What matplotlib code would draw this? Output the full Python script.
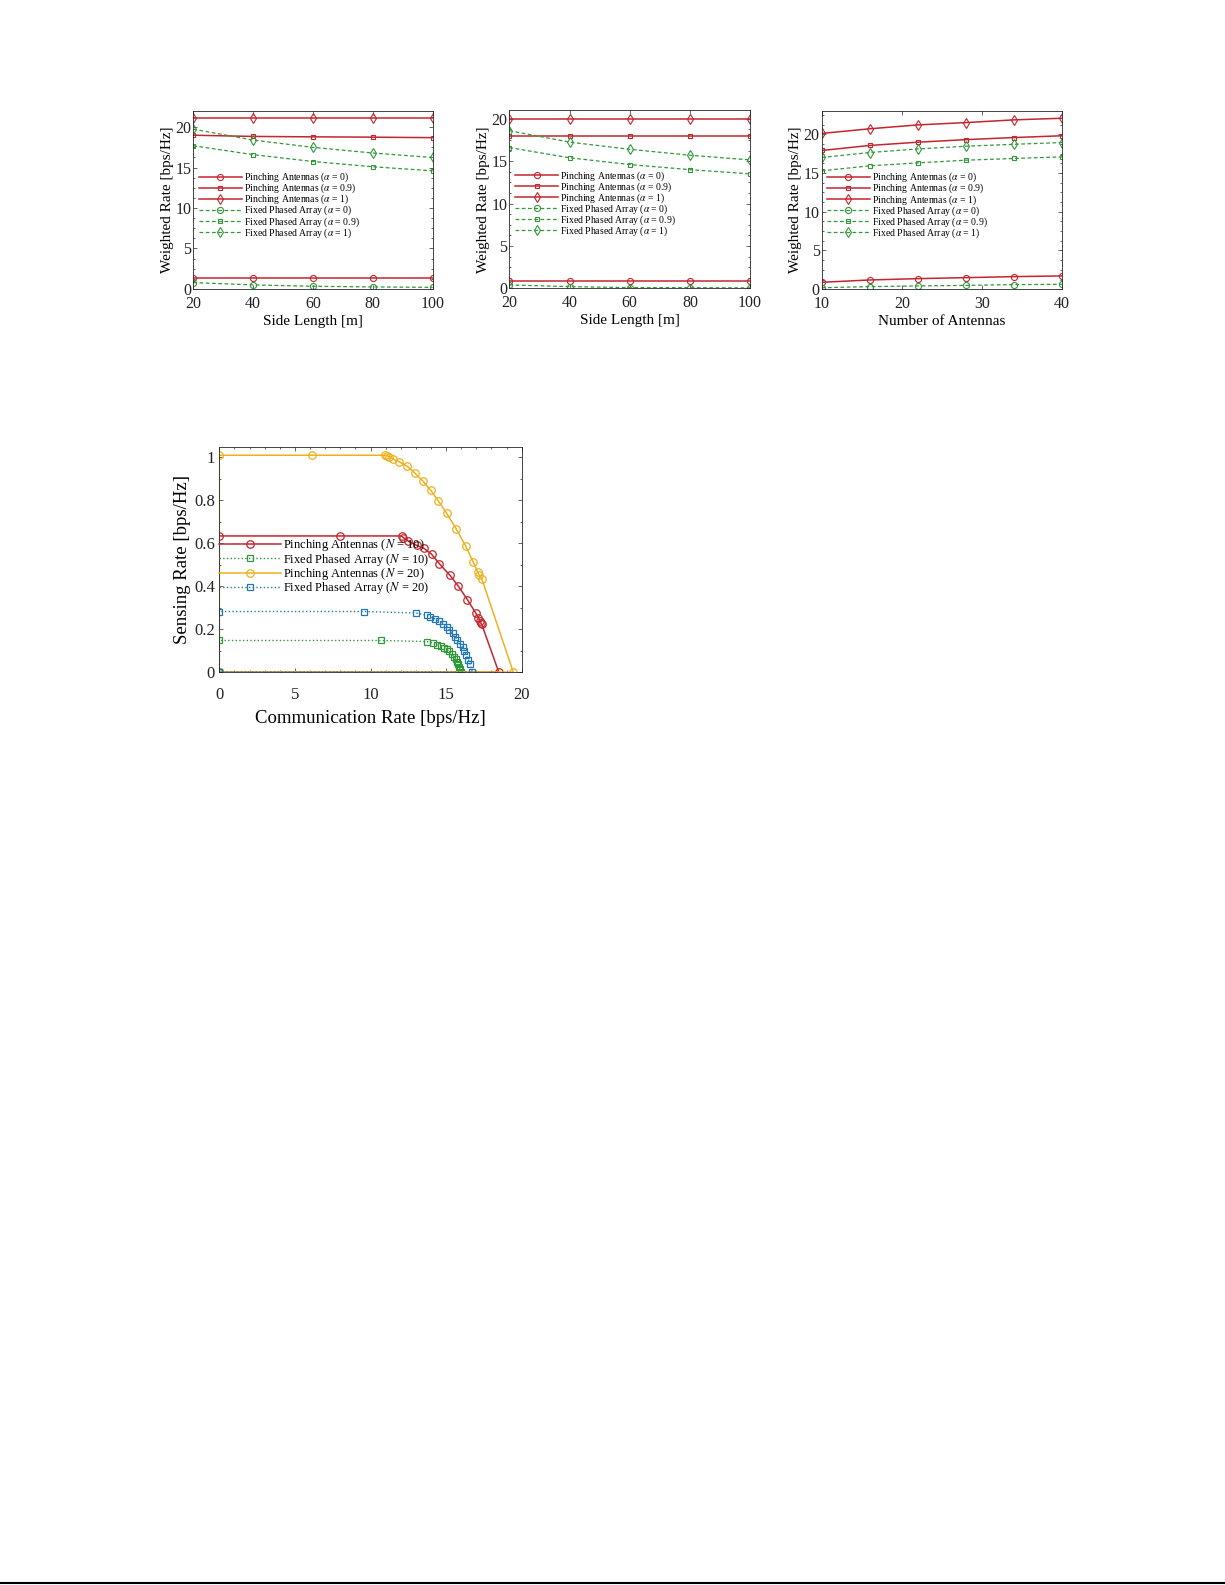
import matplotlib
matplotlib.use("Agg")
import matplotlib.pyplot as plt
from matplotlib.lines import Line2D
from matplotlib.ticker import MultipleLocator

plt.rcParams["font.family"] = ["Liberation Serif", "DejaVu Serif"]
plt.rcParams["mathtext.fontset"] = "stix"

RED = "#C3262E"
GREEN = "#33983A"
YELLOW = "#EDB120"
BLUE = "#2277B5"
FRAME = "#262626"

# ---- (a) weighted rate vs side length, setup 1
side_len = [20, 40, 60, 80, 100]
a_pa_0 = [1.32, 1.32, 1.32, 1.32, 1.32]
a_pa_09 = [19.0, 18.85, 18.8, 18.76, 18.7]
a_pa_1 = [21.1, 21.1, 21.1, 21.1, 21.1]
a_fpa_0 = [0.78, 0.5, 0.33, 0.25, 0.2]
a_fpa_09 = [17.7, 16.6, 15.75, 15.1, 14.6]
a_fpa_1 = [19.75, 18.4, 17.5, 16.8, 16.25]

# ---- (b) weighted rate vs side length, setup 2
b_pa_0 = [0.9, 0.9, 0.9, 0.9, 0.9]
b_pa_09 = [18.0, 18.0, 18.0, 18.0, 18.0]
b_pa_1 = [20.0, 20.0, 20.0, 20.0, 20.0]
b_fpa_0 = [0.4, 0.2, 0.08, 0.08, 0.05]
b_fpa_09 = [16.6, 15.4, 14.6, 14.0, 13.5]
b_fpa_1 = [18.6, 17.25, 16.4, 15.7, 15.15]

# ---- (c) weighted rate vs number of antennas
n_ant = [10, 16, 22, 28, 34, 40]
c_pa_0 = [0.9, 1.2, 1.37, 1.5, 1.63, 1.72]
c_pa_09 = [17.9, 18.55, 18.97, 19.3, 19.57, 19.8]
c_pa_1 = [20.1, 20.7, 21.2, 21.5, 21.85, 22.06]
c_fpa_0 = [0.2, 0.34, 0.43, 0.5, 0.6, 0.64]
c_fpa_09 = [15.28, 15.92, 16.3, 16.65, 16.87, 17.08]
c_fpa_1 = [17.0, 17.64, 18.1, 18.45, 18.7, 18.93]

alpha_labels = [r"Pinching Antennas ($\alpha$ = 0)",
                r"Pinching Antennas ($\alpha$ = 0.9)",
                r"Pinching Antennas ($\alpha$ = 1)",
                r"Fixed Phased Array ($\alpha$ = 0)",
                r"Fixed Phased Array ($\alpha$ = 0.9)",
                r"Fixed Phased Array ($\alpha$ = 1)"]

# ---- (d) rate region (communication rate, sensing rate)
pa10_x = [0, 0, 7.98, 12.06, 12.17, 12.5, 13.05, 13.54, 14.05, 14.55, 15.26, 15.81,
          16.41, 16.96, 17.13, 17.24, 17.3, 17.35, 18.48, 0]
pa10_y = [0, 0.634, 0.634, 0.634, 0.626, 0.61, 0.59, 0.576, 0.548, 0.505, 0.45, 0.40,
          0.337, 0.275, 0.252, 0.239, 0.228, 0.223, 0, 0]
fpa10_x = [0, 0, 10.69, 13.72, 14.15, 14.42, 14.64, 14.86, 15.04, 15.21, 15.37, 15.52,
           15.66, 15.74, 15.81, 15.87, 15.92, 15.97, 0]
fpa10_y = [0, 0.147, 0.147, 0.142, 0.135, 0.127, 0.122, 0.114, 0.107, 0.096, 0.085, 0.072,
           0.060, 0.049, 0.038, 0.025, 0.013, 0, 0]
pa20_x = [0, 0, 6.1, 10.96, 11.11, 11.25, 11.51, 11.91, 12.44, 12.95, 13.46, 13.98,
          14.49, 15.04, 15.66, 16.3, 16.8, 17.09, 17.16, 17.36, 19.44, 0]
pa20_y = [0, 1.01, 1.01, 1.01, 1.007, 1.004, 0.992, 0.979, 0.958, 0.926, 0.890, 0.847,
          0.797, 0.739, 0.668, 0.586, 0.511, 0.465, 0.454, 0.434, 0, 0]
fpa20_x = [0, 0, 9.57, 13.01, 13.72, 13.94, 14.27, 14.55, 14.81, 15.04, 15.21, 15.44,
           15.59, 15.74, 15.92, 16.1, 16.2, 16.32, 16.47, 16.58, 16.73, 0]
fpa20_y = [0, 0.282, 0.282, 0.275, 0.264, 0.256, 0.248, 0.236, 0.224, 0.212, 0.197, 0.181,
           0.165, 0.150, 0.131, 0.116, 0.100, 0.080, 0.057, 0.036, 0, 0]
region_labels = [r"Pinching Antennas ($N$ = 10)",
                 r"Fixed Phased Array ($N$ = 10)",
                 r"Pinching Antennas ($N$ = 20)",
                 r"Fixed Phased Array ($N$ = 20)"]


def style_axes(ax, fs, xpad, ypad):
    for sp in ax.spines.values():
        sp.set_color(FRAME)
        sp.set_linewidth(0.6)
    ax.tick_params(which="both", direction="in", top=True, right=True,
                   colors=FRAME, labelcolor="#222222", labelsize=fs, width=0.5)
    ax.tick_params(which="major", length=3)
    ax.tick_params(which="minor", length=1.6)
    ax.tick_params(axis="x", which="major", pad=xpad)
    ax.tick_params(axis="y", which="major", pad=ypad)


def weighted_panel(rect, x, pa, fpa, ylim, xticks, xlabel, leg_anchor):
    ax = fig.add_axes(rect)
    marks = ["o", "s", "d"]
    sizes = [4.4, 3.3, 4.8]
    for y, m, s in zip(pa, marks, sizes):
        ax.plot(x, y, color=RED, lw=1.1, marker=m, ms=s, mfc="none", mew=0.8)
    for y, m, s in zip(fpa, marks, sizes):
        ax.plot(x, y, color=GREEN, lw=0.9, ls=(0, (3, 2)), marker=m, ms=s,
                mfc="none", mew=0.8)
    ax.set_xlim(x[0], x[-1])
    ax.set_ylim(0, ylim)
    ax.set_xticks(xticks)
    ax.set_yticks([0, 5, 10, 15, 20])
    ax.yaxis.set_minor_locator(MultipleLocator(1.25))
    style_axes(ax, 11.5, 5.0, 1.5)
    ax.set_xlabel(xlabel, fontsize=11, labelpad=2.0)
    ax.set_ylabel("Weighted Rate [bps/Hz]", fontsize=11, labelpad=1.0)
    ax.legend(alpha_labels, loc="upper left", bbox_to_anchor=leg_anchor,
              frameon=False, fontsize=7, handlelength=4.4, handletextpad=0.2,
              labelspacing=-0.25, borderpad=0, borderaxespad=0)
    return ax


fig = plt.figure(figsize=(12.25, 15.85), dpi=100)

weighted_panel([0.1578, 0.8177, 0.1954, 0.1123], side_len,
               [a_pa_0, a_pa_09, a_pa_1], [a_fpa_0, a_fpa_09, a_fpa_1],
               22, [20, 40, 60, 80, 100], "Side Length [m]", (0.024, 0.664))
weighted_panel([0.4158, 0.8181, 0.1965, 0.1123], side_len,
               [b_pa_0, b_pa_09, b_pa_1], [b_fpa_0, b_fpa_09, b_fpa_1],
               21, [20, 40, 60, 80, 100], "Side Length [m]", (0.024, 0.67))
weighted_panel([0.6708, 0.8175, 0.1962, 0.1125], n_ant,
               [c_pa_0, c_pa_09, c_pa_1], [c_fpa_0, c_fpa_09, c_fpa_1],
               23, [10, 20, 30, 40], "Number of Antennas", (0.022, 0.664))

# ---- rate region panel
ax = fig.add_axes([0.1790, 0.5760, 0.2469, 0.1422])
ax.plot(pa10_x, pa10_y, color=RED, lw=1.1, marker="o", ms=5.4, mfc="none", mew=0.9)
ax.plot(fpa10_x, fpa10_y, color=GREEN, lw=1.0, ls=":", marker="s", ms=4.0,
        mfc="none", mew=0.9)
ax.plot(pa20_x, pa20_y, color=YELLOW, lw=1.1, marker="o", ms=5.4, mfc="none", mew=0.9)
ax.plot(fpa20_x, fpa20_y, color=BLUE, lw=1.0, ls=":", marker="s", ms=4.0,
        mfc="none", mew=0.9)
ax.set_xlim(0, 20)
ax.set_ylim(0, 1.05)
ax.set_xticks([0, 5, 10, 15, 20])
ax.set_yticks([0, 0.2, 0.4, 0.6, 0.8, 1])
ax.set_yticklabels(["0", "0.2", "0.4", "0.6", "0.8", "1"])
ax.xaxis.set_minor_locator(MultipleLocator(1))
ax.yaxis.set_minor_locator(MultipleLocator(0.1))
style_axes(ax, 12, 11, 3)
ax.set_xlabel("Communication Rate [bps/Hz]", fontsize=13.5, labelpad=4.5)
ax.set_ylabel("Sensing Rate [bps/Hz]", fontsize=13.5, labelpad=2)
ax.legend(region_labels, loc="upper left", bbox_to_anchor=(0.0, 0.597),
          frameon=False, fontsize=9, handlelength=4.9, handletextpad=0.2,
          labelspacing=-0.14, borderpad=0, borderaxespad=0)

# page rule at the bottom
fig.add_artist(Line2D([0, 1], [0.0013, 0.0013], transform=fig.transFigure,
                      color="black", lw=1.5))

fig.savefig("out.png", dpi=100, facecolor="white")
